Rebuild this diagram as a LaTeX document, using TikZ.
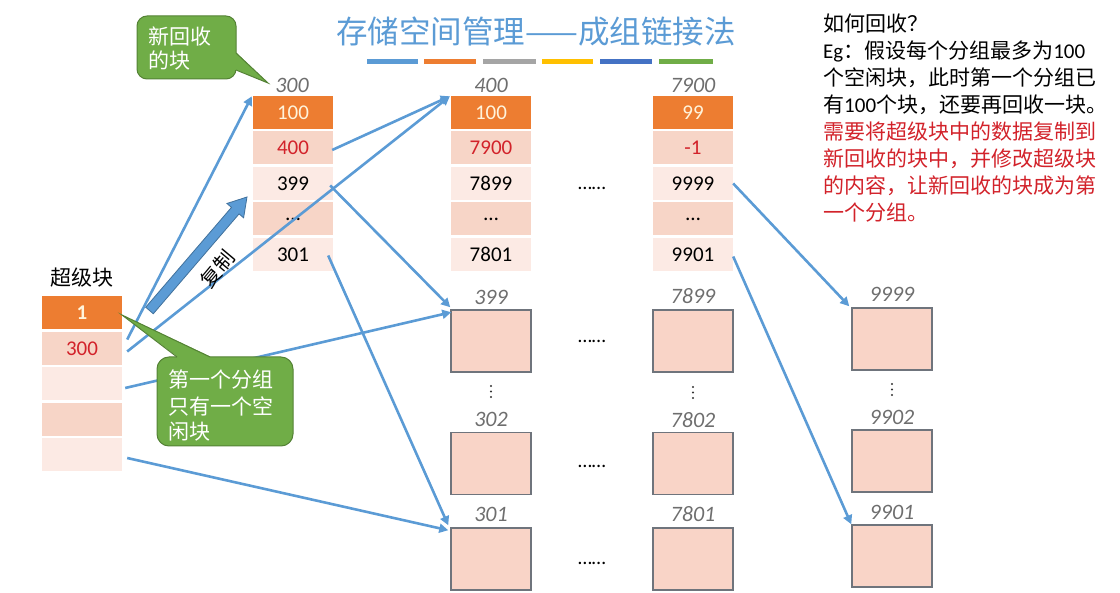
\documentclass[tikz,border=0pt]{standalone}
\usepackage{fontspec}
\setmainfont{Carlito}
\newfontfamily\cjk{Noto Sans CJK SC}
\newfontfamily\latf{Carlito}
\usetikzlibrary{arrows.meta,calc}
\definecolor{cblue}{HTML}{5B9BD5}
\definecolor{cblueb}{HTML}{41719C}
\definecolor{corange}{HTML}{ED7D31}
\definecolor{cgray}{HTML}{A5A5A5}
\definecolor{cyellow}{HTML}{FFC000}
\definecolor{cdblue}{HTML}{4472C4}
\definecolor{cgreen}{HTML}{70AD47}
\definecolor{cgreenb}{HTML}{548235}
\definecolor{pinkA}{HTML}{F7D5C7}
\definecolor{pinkB}{HTML}{FCEAE4}
\definecolor{boxfill}{HTML}{F9D4C7}
\definecolor{boxline}{HTML}{6F747C}
\definecolor{cred}{HTML}{D2222A}
\definecolor{labgray}{HTML}{6E6E6E}
\definecolor{cream}{HTML}{FFF4DC}
\begin{document}
\begin{tikzpicture}[x=1pt,y=-1pt,
  cell/.style={minimum width=80pt,minimum height=33pt,inner sep=0pt,font=\fontsize{21}{24}\selectfont},
  hdcell/.style={cell,fill=corange,text=cream},
  dkcell/.style={cell,fill=pinkA},
  ltcell/.style={cell,fill=pinkB},
  freebox/.style={draw=boxline,line width=1.5pt,fill=boxfill,minimum width=80pt,minimum height=62pt,inner sep=0pt},
  addr/.style={font=\fontsize{22}{24}\selectfont\itshape,text=labgray,inner sep=0pt},
  hdots/.style={font=\fontsize{20}{22}\selectfont,inner sep=0pt},
  vdot/.style={fill=black!80,circle,inner sep=0pt,minimum size=2.4pt},
  ptr/.style={draw=cblue,line width=2.6pt,-{Triangle[length=9pt,width=9pt]}},
  cjklabel/.style={font=\cjk\fontsize{21}{26}\selectfont,inner sep=0pt},
  callout/.style={fill=cgreen,draw=cgreenb,line width=1pt},
  calltext/.style={font=\cjk\fontsize{21}{26}\selectfont,text=white,inner sep=0pt,anchor=west}
]
\useasboundingbox (0,0) rectangle (1120,593);

% title
\node[font=\cjk\fontsize{31.5}{34}\selectfont,text=cblue,inner sep=0pt] (title) at (536,32) {存储空间管理——成组链接法};
\fill[cblue]   (367,59.5) rectangle (418,64.5);
\fill[corange] (424,59.5) rectangle (476,64.5);
\fill[cgray]   (483,59.5) rectangle (536,64.5);
\fill[cyellow] (542,59.5) rectangle (593,64.5);
\fill[cdblue]  (600,59.5) rectangle (652,64.5);
\fill[cgreen]  (659,59.5) rectangle (713,64.5);

% super block
\node[cjklabel] (suplab) at (82,278) {超级块};
\node[hdcell,font=\fontsize{21}{24}\selectfont\bfseries] (s1) at (82,313) {1};
\node[dkcell,text=cred] (s2) at (82,348.5) {300};
\node[ltcell] (s3) at (82,384) {};
\node[dkcell] (s4) at (82,419.5) {};
\node[ltcell] (s5) at (82,455) {};

% block 300
\node[addr] (la) at (292,85) {300};
\node[hdcell] (a1) at (293,112.5) {100};
\node[dkcell,text=cred] (a2) at (293,148) {400};
\node[ltcell] (a3) at (293,183.5) {399};
\node[dkcell] (a4) at (293,219) {\dots};
\node[ltcell] (a5) at (293,254.5) {301};

% block 400
\node[addr] (lb) at (491,85) {400};
\node[hdcell] (b1) at (491,112.5) {100};
\node[dkcell,text=cred] (b2) at (491,148) {7900};
\node[ltcell] (b3) at (491,183.5) {7899};
\node[dkcell] (b4) at (491,219) {\dots};
\node[ltcell] (b5) at (491,254.5) {7801};

% block 7900
\node[addr] (lc) at (693,85) {7900};
\node[hdcell] (c1) at (693,112.5) {99};
\node[dkcell,text=cred] (c2) at (693,148) {-1};
\node[ltcell] (c3) at (693,183.5) {9999};
\node[dkcell] (c4) at (693,219) {\dots};
\node[ltcell] (c5) at (693,254.5) {9901};

\node[hdots] (d0) at (592,188) {……};

% free blocks column 1
\node[addr] (lp1) at (491,297) {399};
\node[freebox] (p1) at (491,341) {};
\node[addr] (lp2) at (491,419) {302};
\node[freebox] (p2) at (491,463.5) {};
\node[addr] (lp3) at (491,514) {301};
\node[freebox] (p3) at (491,559) {};
% column 2
\node[addr] (lq1) at (693,296) {7899};
\node[freebox] (q1) at (693,341) {};
\node[addr] (lq2) at (693,420) {7802};
\node[freebox] (q2) at (693,463.5) {};
\node[addr] (lq3) at (693,514) {7801};
\node[freebox] (q3) at (693,559) {};
% column 3
\node[addr] (lr1) at (892,294) {9999};
\node[freebox] (r1) at (892,339) {};
\node[addr] (lr2) at (892,417) {9902};
\node[freebox] (r2) at (892,461) {};
\node[addr] (lr3) at (892,512) {9901};
\node[freebox] (r3) at (892,556) {};

\node[hdots] (d1) at (592,341) {……};
\node[hdots] (d2) at (592,466) {……};
\node[hdots] (d3) at (592,563) {……};

\node[vdot] (v1a) at (491,386) {};
\node[vdot] (v1b) at (491,391.5) {};
\node[vdot] (v1c) at (491,397) {};
\node[vdot] (v2a) at (693,387) {};
\node[vdot] (v2b) at (693,392.5) {};
\node[vdot] (v2c) at (693,398) {};
\node[vdot] (v3a) at (892,384) {};
\node[vdot] (v3b) at (892,389.5) {};
\node[vdot] (v3c) at (892,395) {};

% pointers
\draw[ptr] ([shift={(5,-9)}]s2.east) -- ([shift={(-1,0.5)}]a1.north west);
\draw[ptr] ([shift={(5,3)}]s2.east) -- ([shift={(-1,0.5)}]b1.north west);
\draw[ptr] ([shift={(-1,2)}]a2.east) -- ([shift={(-1,0.5)}]b1.north west);
\draw[ptr] ([shift={(-3,2)}]a3.east) -- ([shift={(0,-2)}]p1.north west);
\draw[ptr] ([shift={(-5,1)}]a5.east) -- ([shift={(-2,-2)}]p3.north west);
\draw[ptr] ([shift={(3,4)}]s3.east) -- ([shift={(1,3)}]p1.north west);
\draw[ptr] ([shift={(5,3)}]s5.east) -- ([shift={(-2,3)}]p3.north west);
\draw[ptr] ([shift={(0,0)}]c3.east) -- ([shift={(-2,-1)}]r1.north west);
\draw[ptr] ([shift={(0,2)}]c5.east) -- ([shift={(0,0)}]r3.north west);

% copy block arrow
\coordinate (cpT) at (149.5,310.5);
\coordinate (cpH) at (247,197);
\coordinate (cpB) at ($(cpH)!18pt!(cpT)$);
\filldraw[fill=cblue,draw=cblueb,line width=0.8pt]
  ($(cpT)!5pt!90:(cpH)$) -- ($(cpB)!5pt!-90:(cpT)$) -- ($(cpB)!11pt!-90:(cpT)$) -- (cpH)
  -- ($(cpB)!11pt!90:(cpT)$) -- ($(cpB)!5pt!90:(cpT)$) -- ($(cpT)!5pt!-90:(cpH)$) -- cycle;
\node[font=\cjk\fontsize{20}{22}\selectfont,rotate=50,inner sep=0pt] (copylab) at (218,269) {复制};

% callout: new block
\filldraw[callout,rounded corners=10pt] (137,16) rectangle (236,79);
\fill[cgreen] (229,53) -- (236.6,53) -- (268,83) -- (236.6,70) -- (229,70) -- cycle;
\draw[cgreenb,line width=1pt] (236,53) -- (268,83) -- (236,70);
\node[calltext] (n1a) at (148,36) {新回收};
\node[calltext] (n1b) at (148,61) {的块};

% callout: first group
\filldraw[callout,rounded corners=12pt] (157,357) rectangle (293,446);
\fill[cgreen] (177,363) -- (177,356.4) -- (122,315) -- (210,356.4) -- (210,363) -- cycle;
\draw[cgreenb,line width=1pt] (177,357) -- (122,315) -- (210,357);
\node[calltext] (n2a) at (168,380) {第一个分组};
\node[calltext] (n2b) at (168,406) {只有一个空};
\node[calltext] (n2c) at (168,432) {闲块};

% note text
\node[anchor=north west,align=left,inner sep=0pt,font=\cjk\fontsize{21}{27}\selectfont] (note) at (823,14)
{如何回收？\\
{\latf Eg}：假设每个分组最多为{\latf 100}\\
个空闲块，此时第一个分组已\\
有{\latf 100}个块，还要再回收一块。\\
\color{cred}需要将超级块中的数据复制到\\
\color{cred}新回收的块中，并修改超级块\\
\color{cred}的内容，让新回收的块成为第\\
\color{cred}一个分组。};
\end{tikzpicture}
\end{document}
